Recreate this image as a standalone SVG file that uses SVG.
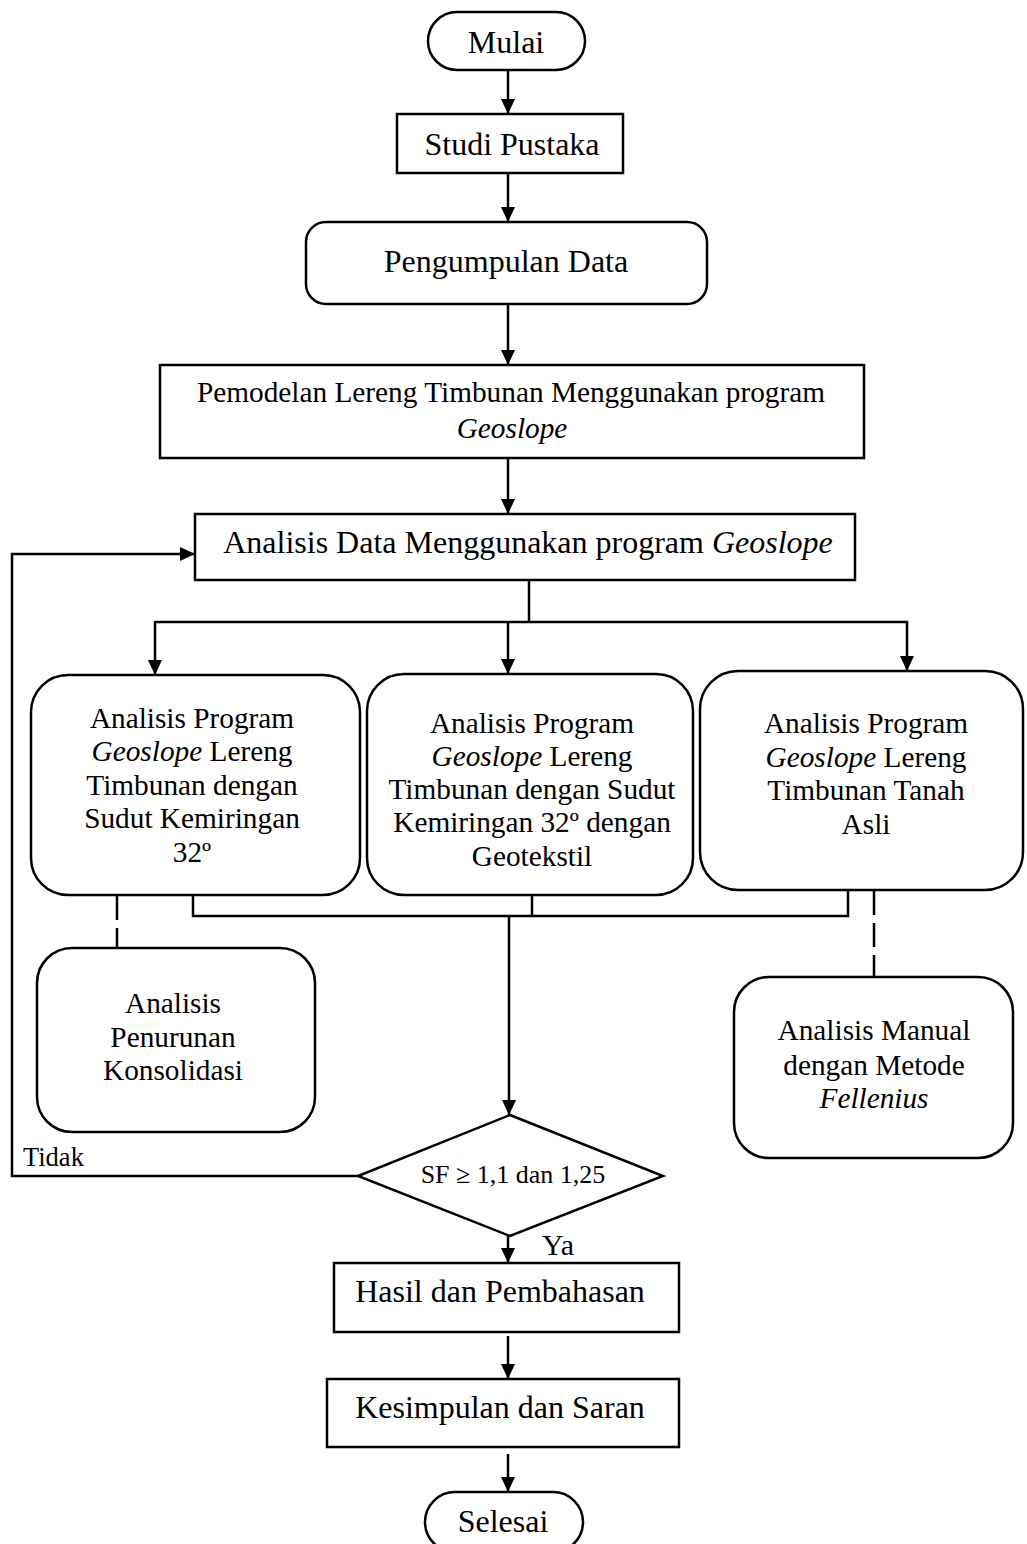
<svg xmlns="http://www.w3.org/2000/svg" width="1027" height="1544" viewBox="0 0 1027 1544">
<style>
.box{fill:#fff;stroke:#000;stroke-width:2.5}
.ln{fill:none;stroke:#000;stroke-width:2.5}
.dash{fill:none;stroke:#000;stroke-width:2.5;stroke-dasharray:24 8}
text{font-family:"Liberation Serif","Times New Roman",serif;fill:#000;text-anchor:middle}
.t32{font-size:32px}
.t29{font-size:29.3px}
.it{font-style:italic}
</style>
<defs>
<marker id="ah" markerUnits="userSpaceOnUse" markerWidth="16" markerHeight="14" refX="15" refY="7" orient="auto">
<path d="M0,0 L15,7 L0,14 z" fill="#000"/>
</marker>
</defs>
<rect width="1027" height="1544" fill="#fff"/>
<g id="connectors">
<line class="ln" x1="508" y1="70" x2="508" y2="114" marker-end="url(#ah)"/>
<line class="ln" x1="508" y1="173" x2="508" y2="222" marker-end="url(#ah)"/>
<line class="ln" x1="508" y1="304" x2="508" y2="365" marker-end="url(#ah)"/>
<line class="ln" x1="508" y1="458" x2="508" y2="514" marker-end="url(#ah)"/>
<polyline class="ln" points="529,580 529,622"/>
<polyline class="ln" points="155,622 908,622"/>
<line class="ln" x1="155" y1="621" x2="155" y2="675" marker-end="url(#ah)"/>
<line class="ln" x1="508" y1="622" x2="508" y2="674" marker-end="url(#ah)"/>
<line class="ln" x1="907" y1="621" x2="907" y2="671" marker-end="url(#ah)"/>
<polyline class="ln" points="193,895 193,916 848,916 848,890"/>
<line class="ln" x1="532" y1="895" x2="532" y2="916"/>
<line class="ln" x1="509" y1="916" x2="509" y2="1115" marker-end="url(#ah)"/>
<line class="dash" x1="117" y1="896" x2="117" y2="948"/>
<line class="dash" x1="874" y1="891" x2="874" y2="977"/>
<polyline class="ln" points="358,1176 12,1176 12,554 195,554" marker-end="url(#ah)"/>
<line class="ln" x1="508" y1="1235" x2="508" y2="1263" marker-end="url(#ah)"/>
<line class="ln" x1="508" y1="1336" x2="508" y2="1379" marker-end="url(#ah)"/>
<line class="ln" x1="508" y1="1454" x2="508" y2="1492" marker-end="url(#ah)"/>
</g>
<g id="mulai">
<rect class="box" x="428" y="12" width="157" height="58" rx="29" ry="29"/>
<text class="t32" x="506" y="53">Mulai</text>
</g>
<g id="studi-pustaka">
<rect class="box" x="397" y="114" width="226" height="59"/>
<text class="t32" x="512" y="155">Studi Pustaka</text>
</g>
<g id="pengumpulan-data">
<rect class="box" x="306" y="222" width="401" height="82" rx="20" ry="20"/>
<text class="t32" x="506" y="272">Pengumpulan Data</text>
</g>
<g id="pemodelan">
<rect class="box" x="160" y="365" width="704" height="93"/>
<text class="t29" x="511" y="402">Pemodelan Lereng Timbunan Menggunakan program</text>
<text class="t29 it" x="512" y="438">Geoslope</text>
</g>
<g id="analisis-data">
<rect class="box" x="195" y="514" width="660" height="66"/>
<text class="t32" x="528" y="553">Analisis Data Menggunakan program <tspan class="it">Geoslope</tspan></text>
</g>
<g id="analisis-32">
<rect class="box" x="31" y="675" width="329" height="220" rx="37" ry="37"/>
<text class="t29" x="192" y="728">Analisis Program</text>
<text class="t29" x="192" y="761"><tspan class="it">Geoslope</tspan> Lereng</text>
<text class="t29" x="192" y="795">Timbunan dengan</text>
<text class="t29" x="192" y="828">Sudut Kemiringan</text>
<text class="t29" x="192" y="862">32º</text>
</g>
<g id="analisis-geotekstil">
<rect class="box" x="367" y="674" width="326" height="221" rx="37" ry="37"/>
<text class="t29" x="532" y="733">Analisis Program</text>
<text class="t29" x="532" y="766"><tspan class="it">Geoslope</tspan> Lereng</text>
<text class="t29" x="532" y="799">Timbunan dengan Sudut</text>
<text class="t29" x="532" y="832">Kemiringan 32º dengan</text>
<text class="t29" x="532" y="866">Geotekstil</text>
</g>
<g id="analisis-asli">
<rect class="box" x="700" y="671" width="323" height="219" rx="38" ry="38"/>
<text class="t29" x="866" y="733">Analisis Program</text>
<text class="t29" x="866" y="767"><tspan class="it">Geoslope</tspan> Lereng</text>
<text class="t29" x="866" y="800">Timbunan Tanah</text>
<text class="t29" x="866" y="834">Asli</text>
</g>
<g id="penurunan">
<rect class="box" x="37" y="948" width="278" height="184" rx="35" ry="35"/>
<text class="t29" x="173" y="1013">Analisis</text>
<text class="t29" x="173" y="1047">Penurunan</text>
<text class="t29" x="173" y="1080">Konsolidasi</text>
</g>
<g id="manual">
<rect class="box" x="734" y="977" width="279" height="181" rx="35" ry="35"/>
<text class="t29" x="874" y="1040">Analisis Manual</text>
<text class="t29" x="874" y="1075">dengan Metode</text>
<text class="t29 it" x="874" y="1108">Fellenius</text>
</g>
<g id="keputusan">
<polygon class="box" points="510,1115 663,1176 510,1236 358,1176"/>
<text x="513" y="1183" style="font-size:26px">SF ≥ 1,1 dan 1,25</text>
<text x="23" y="1166" style="font-size:26.5px;text-anchor:start">Tidak</text>
<text x="542" y="1255" style="font-size:30px;text-anchor:start">Ya</text>
</g>
<g id="hasil">
<rect class="box" x="334" y="1263" width="345" height="69"/>
<text class="t32" x="500" y="1302">Hasil dan Pembahasan</text>
</g>
<g id="kesimpulan">
<rect class="box" x="327" y="1379" width="352" height="68"/>
<text class="t32" x="500" y="1418">Kesimpulan dan Saran</text>
</g>
<g id="selesai">
<rect class="box" x="425" y="1492" width="158" height="60" rx="30" ry="30"/>
<text class="t32" x="503" y="1532">Selesai</text>
</g>
</svg>
